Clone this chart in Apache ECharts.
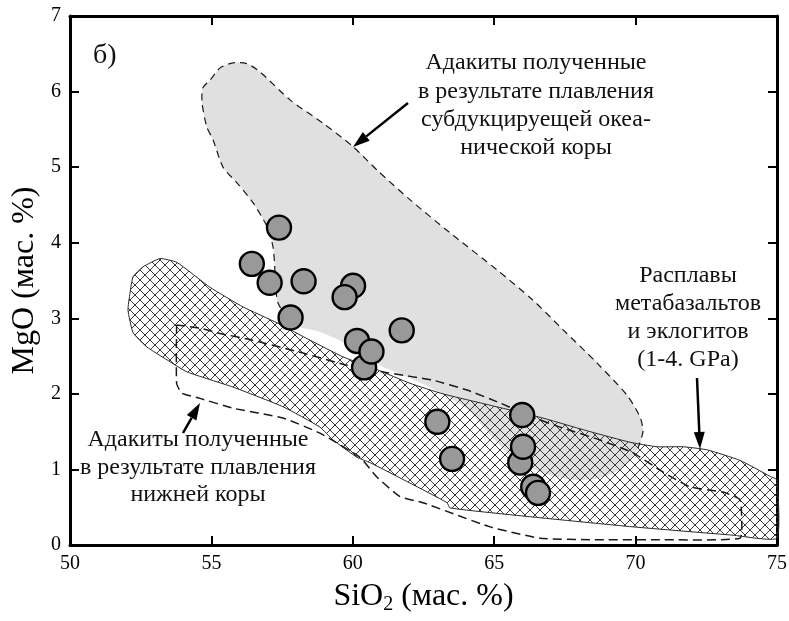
<!DOCTYPE html>
<html>
<head>
<meta charset="utf-8">
<script src="https://cdn.jsdelivr.net/npm/echarts@6/dist/echarts.min.js"></script>
<style>
  html, body { margin: 0; padding: 0; background: #fff; }
  #chart { width: 789px; height: 621px; }
</style>
</head>
<body>
<div id="chart"></div>
<script>
// Samples: SiO2 vs MgO, wt. %
const sio2 = [57.39, 56.43, 57.06, 58.26, 60.01, 59.71, 57.80, 61.73, 60.15, 60.40, 60.66, 62.99, 63.51, 65.99, 65.92, 66.02, 66.38, 66.55];
const mgo  = [4.20, 3.72, 3.47, 3.49, 3.43, 3.28, 3.01, 2.84, 2.70, 2.35, 2.56, 1.63, 1.14, 1.72, 1.09, 1.30, 0.77, 0.69];

// Field of adakites from melting of subducted oceanic crust (grey, dashed outline)
const slabAdakiteField = [
  [57.67, 3.00], [57.36, 3.20], [57.28, 3.37], [57.25, 3.60], [57.18, 3.94], [56.97, 4.21],
  [56.47, 4.53], [55.91, 4.79], [55.41, 5.00], [55.06, 5.36], [54.84, 5.53], [54.67, 5.85],
  [54.70, 6.05], [54.95, 6.15], [55.30, 6.31], [55.76, 6.38], [56.25, 6.37], [56.72, 6.26],
  [57.78, 5.89], [58.95, 5.58], [60.01, 5.27], [60.86, 4.96], [62.02, 4.57], [63.44, 4.13],
  [65.10, 3.64], [66.37, 3.24], [67.43, 2.85], [68.63, 2.41], [69.70, 1.98], [70.16, 1.69],
  [70.26, 1.50], [70.08, 1.28],
  [69.55, 1.03], [68.85, 0.90], [67.93, 0.86], [66.73, 0.95], [65.56, 1.19], [64.85, 1.46],
  [64.07, 1.79], [63.08, 2.02], [62.02, 2.21], [60.96, 2.38], [60.01, 2.62], [58.84, 2.82],
  [58.13, 2.88]
];
// number of leading vertices that carry the dashed outline
const slabAdakiteOutlineCount = 32;

// Field of metabasalt and eclogite melts, 1-4 GPa (cross-hatched)
const meltField = [
  [52.12, 3.33], [52.23, 3.55], [52.58, 3.68], [53.18, 3.79], [53.78, 3.74], [54.95, 3.41],
  [56.12, 3.15], [57.32, 2.94], [58.49, 2.71], [59.65, 2.49], [60.86, 2.32], [62.02, 2.14],
  [63.19, 2.00], [64.85, 1.85], [66.62, 1.69], [68.39, 1.50], [69.80, 1.36], [70.76, 1.30],
  [71.68, 1.30], [72.52, 1.26], [73.69, 1.12], [74.75, 0.91], [75.00, 0.86], [75.00, 0.09],
  [73.44, 0.13], [69.91, 0.24], [66.37, 0.37], [63.44, 0.49], [63.33, 0.56], [62.02, 0.82],
  [60.61, 1.09], [60.15, 1.16], [59.30, 1.39], [58.84, 1.56], [57.53, 1.83], [55.76, 2.09],
  [54.14, 2.29], [53.43, 2.45], [52.72, 2.62], [52.23, 2.81], [52.05, 3.11]
];

// Field of adakites from lower-crust melting (dashed outline only)
const lowerCrustAdakiteField = [
  [53.77, 2.91], [53.77, 2.14], [53.95, 2.01], [54.60, 1.94], [55.76, 1.81], [57.53, 1.68],
  [58.84, 1.48], [60.25, 1.16], [60.85, 0.90], [61.67, 0.64], [62.48, 0.56], [64.85, 0.24],
  [66.62, 0.09], [68.39, 0.07], [70.76, 0.07], [73.69, 0.09], [73.75, 0.37], [73.69, 0.60],
  [73.09, 0.70], [71.92, 0.77], [70.86, 0.99], [69.91, 1.22], [68.74, 1.39], [67.33, 1.56],
  [66.37, 1.69], [65.20, 1.88], [64.04, 2.05], [62.84, 2.18], [61.21, 2.28], [59.79, 2.38],
  [58.24, 2.54], [56.47, 2.71], [55.30, 2.80], [54.60, 2.87], [53.77, 2.91]
];

// Axis ranges and tick steps
const xRange = [50, 75];
const xStep = 5;
const yRange = [0, 7];
const yStep = 1;

// Annotation texts
const panelLetter = 'б)';
const slabNote = ['Адакиты полученные', 'в результате плавления', 'субдукцируещей океа-', 'нической коры'];
const crustNote = ['Адакиты полученные', 'в результате плавления', 'нижней коры'];
const meltNote = ['Расплавы', 'метабазальтов', 'и эклогитов', '(1-4. GPa)'];

const SERIF = '"Liberation Serif", "Times New Roman", Times, serif';

function crossHatch() {
  const s = 10;
  const c = document.createElement('canvas');
  c.width = s; c.height = s;
  const g = c.getContext('2d');
  g.strokeStyle = '#3a3a3a';
  g.lineWidth = 1;
  g.beginPath();
  g.moveTo(-1, -1); g.lineTo(s + 1, s + 1);
  g.moveTo(s + 1, -1); g.lineTo(-1, s + 1);
  g.stroke();
  return c;
}

function shapeSeries(name, points, makeShape, z) {
  return {
    name,
    type: 'custom',
    coordinateSystem: 'cartesian2d',
    silent: true,
    z,
    data: [points[0]],
    renderItem(params, api) {
      return makeShape(points.map(p => api.coord(p)));
    }
  };
}

function textLines(lines, cx, firstMid, step, size, align) {
  return lines.map((t, i) => ({
    type: 'text',
    silent: true,
    style: {
      text: t,
      x: cx,
      y: firstMid + i * step,
      fill: '#111',
      font: size + 'px ' + SERIF,
      textAlign: align || 'center',
      textVerticalAlign: 'middle'
    }
  }));
}

function arrow(x1, y1, x2, y2) {
  const dx = x2 - x1, dy = y2 - y1;
  const len = Math.sqrt(dx * dx + dy * dy);
  const ux = dx / len, uy = dy / len;
  const head = 17, half = 5.5;
  const bx = x2 - ux * head, by = y2 - uy * head;
  return {
    type: 'group',
    silent: true,
    children: [
      { type: 'line', shape: { x1, y1, x2: bx, y2: by }, style: { stroke: '#000', lineWidth: 2.5 } },
      { type: 'polygon', shape: { points: [[x2, y2], [bx - uy * half, by + ux * half], [bx + uy * half, by - ux * half]] },
        style: { fill: '#000' } }
    ]
  };
}

const chart = echarts.init(document.getElementById('chart'), null, { renderer: 'canvas' });

const axisLine = { show: true, onZero: false, lineStyle: { color: '#000', width: 3 } };
const axisTick = { show: true, inside: true, length: 9, lineStyle: { color: '#000', width: 2 } };
const tickFont = { color: '#000', fontFamily: SERIF, fontSize: 20 };

chart.setOption({
  animation: false,
  backgroundColor: '#fff',
  grid: { left: 70, right: 12, top: 16, bottom: 76, containLabel: false, outerBoundsMode: 'none' },
  xAxis: [
    {
      type: 'value', min: xRange[0], max: xRange[1], interval: xStep, position: 'bottom',
      axisLine, axisTick, splitLine: { show: false },
      axisLabel: Object.assign({ margin: 9 }, tickFont),
      name: '{a|SiO}{s|2}{a| (мас. %)}',
      nameLocation: 'middle', nameGap: 34,
      nameTextStyle: {
        rich: {
          a: { fontFamily: SERIF, fontSize: 32, color: '#000', lineHeight: 36 },
          s: { fontFamily: SERIF, fontSize: 20, color: '#000', lineHeight: 36, verticalAlign: 'bottom' }
        }
      }
    },
    {
      type: 'value', min: xRange[0], max: xRange[1], interval: xStep, position: 'top',
      axisLine, axisTick, splitLine: { show: false }, axisLabel: { show: false }
    }
  ],
  yAxis: [
    {
      type: 'value', min: yRange[0], max: yRange[1], interval: yStep, position: 'left',
      axisLine, axisTick, splitLine: { show: false },
      axisLabel: Object.assign({ margin: 9 }, tickFont),
      name: 'MgO (мас. %)',
      nameLocation: 'middle', nameGap: 27,
      nameTextStyle: { fontFamily: SERIF, fontSize: 32, color: '#000' }
    },
    {
      type: 'value', min: yRange[0], max: yRange[1], interval: yStep, position: 'right',
      axisLine, axisTick, splitLine: { show: false }, axisLabel: { show: false }
    }
  ],
  series: [
    shapeSeries('slab-fill', slabAdakiteField, pts => ({
      type: 'polygon', shape: { points: pts, smooth: 0.25 },
      style: { fill: '#e0e0e0', stroke: null }
    }), 1),
    shapeSeries('melt-field', meltField, pts => ({
      type: 'polygon', shape: { points: pts, smooth: 0.15 },
      style: { fill: { image: crossHatch(), repeat: 'repeat' }, stroke: '#2a2a2a', lineWidth: 1 }
    }), 2),
    shapeSeries('lower-crust', lowerCrustAdakiteField, pts => ({
      type: 'polyline', shape: { points: pts, smooth: 0.15 },
      style: { fill: null, stroke: '#1a1a1a', lineWidth: 1.5, lineDash: [9, 5] }
    }), 3),
    shapeSeries('slab-outline', slabAdakiteField.slice(0, slabAdakiteOutlineCount), pts => ({
      type: 'polyline', shape: { points: pts, smooth: 0.25 },
      style: { fill: null, stroke: '#1a1a1a', lineWidth: 1.2, lineDash: [7, 5] }
    }), 3),
    {
      name: 'samples',
      type: 'scatter',
      z: 10,
      symbol: 'circle',
      symbolSize: 24,
      data: sio2.map((x, i) => [x, mgo[i]]),
      itemStyle: { color: '#999999', borderColor: '#000', borderWidth: 2.4, opacity: 1 }
    }
  ],
  graphic: [
    ...textLines([panelLetter], 93, 56, 0, 28, 'left'),
    ...textLines(slabNote, 536, 63, 28.3, 24),
    ...textLines(crustNote, 198, 440, 27.5, 24),
    ...textLines(meltNote, 688, 276, 28, 24),
    arrow(408, 103, 353, 147),
    arrow(183, 433, 200, 403),
    arrow(697, 378, 700, 449)
  ]
});
</script>
</body>
</html>
